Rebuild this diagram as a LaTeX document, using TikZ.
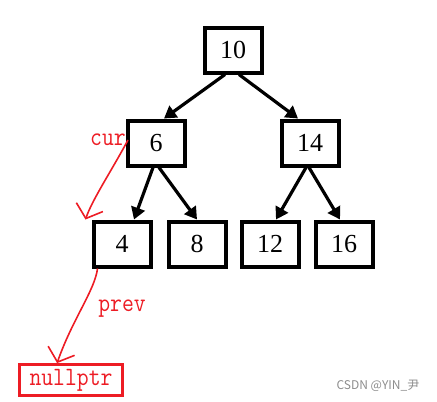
\documentclass[tikz,border=0pt]{standalone}
\usepackage{fontspec}
\setmainfont{Liberation Serif}
\newfontfamily\cjkfont{Noto Sans CJK SC}
\usetikzlibrary{arrows.meta,positioning}
\definecolor{paintred}{RGB}{237,28,36}
\newcommand{\tallcode}[1]{\scalebox{1}[1.15]{#1}}

\begin{document}
\begin{tikzpicture}[x=1pt, y=-1pt, >=Triangle, key/.style={draw, line width=4pt, minimum width=57pt, minimum height=45pt, inner sep=0pt, font=\fontsize{26}{30}\selectfont}, link/.style={-{Triangle[length=12pt,width=14pt]}, line width=3.2pt}, ptr/.style={text=paintred, inner sep=0pt, font=\ttfamily\fontsize{23}{26}\selectfont}, hand/.style={draw=paintred, line width=1.6pt, -{Straight Barb[length=12pt,width=28pt]}}]
\useasboundingbox (0,0) rectangle (437,402);
\node[key] (n10) at (233,50) {10};
\node[key, below left=44pt and 16pt of n10] (n6) {6};
\node[key, below right=44pt and 16pt of n10] (n14) {14};
\node[key] (n4) at (122,244) {4};
\node[key, right=14pt of n4] (n8) {8};
\node[key, right=12pt of n8] (n12) {12};
\node[key, right=13pt of n12] (n16) {16};
\node[ptr] (cur) at (108,140) {\tallcode{cur}};
\node[ptr] (prev) at (122,309) {\tallcode{prev}};
\node[ptr, draw=paintred, line width=2.8pt, minimum width=103pt, minimum height=31pt] (null) at (71,380) {\tallcode{nullptr}};
\node[text=black!45, font=\cjkfont\fontsize{12}{14}\selectfont] (mark) at (378,386) {CSDN @YIN\_尹};
\draw[link] ([xshift=-8pt]n10.south) -- ([xshift=8pt]n6.north);
\draw[link] ([xshift=6pt]n10.south) -- ([xshift=-12pt]n14.north);
\draw[link] ([xshift=-3pt]n6.south) -- ([xshift=12pt]n4.north);
\draw[link] ([xshift=3pt]n6.south) -- (n8.north);
\draw[link] ([xshift=-4pt]n14.south) -- ([xshift=6pt]n12.north);
\draw[link] ([xshift=-1pt]n14.south) -- ([xshift=-4pt]n16.north);
\draw[hand] ([xshift=2pt]cur.east) .. controls (112,170) and (92,200) .. ([xshift=-6pt]n4.north west);
\draw[hand] ([xshift=6pt]n4.south west) .. controls (95,290) and (72,320) .. ([xshift=39pt]null.north west);
\end{tikzpicture}
\end{document}
